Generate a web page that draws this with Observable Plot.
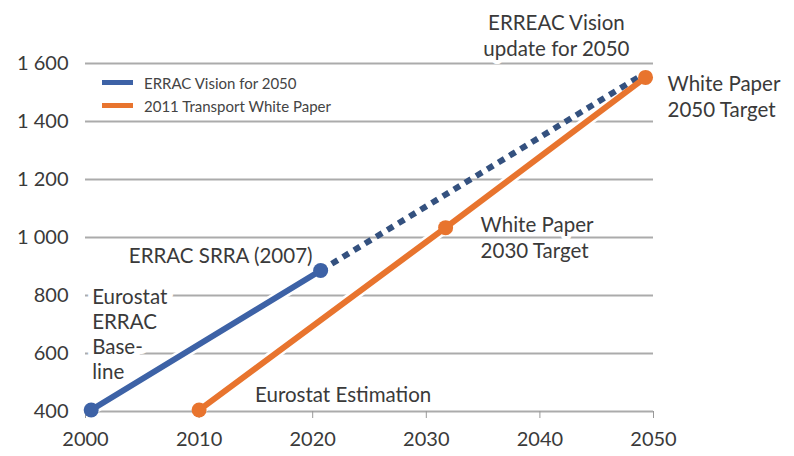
<!DOCTYPE html>
<html>
<head>
<meta charset="utf-8">
<script src="https://cdn.jsdelivr.net/npm/d3@7"></script>
<script src="https://cdn.jsdelivr.net/npm/@observablehq/plot@0.6"></script>
<style>
  html, body { margin: 0; padding: 0; background: #fff; }
  #wrap { position: relative; width: 794px; height: 456px; font-family: Lato, "Open Sans", sans-serif; }
  #legend { position: absolute; left: 102px; top: 71px; font-size: 15px; color: #444; }
  .row { display: flex; align-items: center; height: 23px; }
  .sw { width: 31px; height: 5px; margin-right: 11px; }
</style>
</head>
<body>
<div id="wrap"></div>
<script>
// Series: ERRAC Vision for 2050 (solid historical part, dashed vision part)
const erracYears = [2000.5, 2020.7];
const erracValues = [405, 886];
const erracVisionYears = [2020.7, 2049.2];
const erracVisionValues = [886, 1565];
// Series: 2011 Transport White Paper
const wpYears = [2010, 2031.7, 2049.3];
const wpValues = [405, 1034, 1552];

const seriesNames = ["ERRAC Vision for 2050", "2011 Transport White Paper"];
const seriesColors = ["#3d62a6", "#e8742e"];
const dashColor = "#34517f";

const xTicks = [2000, 2010, 2020, 2030, 2040, 2050];
const yTicks = [400, 600, 800, 1000, 1200, 1400, 1600];

const errac = erracYears.map((x, i) => ({x, y: erracValues[i]}));
const erracVision = erracVisionYears.map((x, i) => ({x, y: erracVisionValues[i]}));
const wp = wpYears.map((x, i) => ({x, y: wpValues[i]}));

// Annotations anchored to data points
const annotations = [
  {p: errac[1], text: "ERRAC SRRA (2007)", dx: -100, dy: -16, anchor: "middle", lh: 1.3, halo: 8},
  {p: errac[0], text: "Eurostat\nERRAC\nBase-\nline", dx: 1, dy: -77, anchor: "start", lh: 1.22, halo: 12},
  {p: wp[0], text: "Eurostat Estimation", dx: 56, dy: -17, anchor: "start", lh: 1.3, halo: 8},
  {p: wp[1], text: "White Paper\n2030 Target", dx: 35, dy: 9, anchor: "start", lh: 1.3, halo: 8},
  {p: wp[2], text: "White Paper\n2050 Target", dx: 22, dy: 18, anchor: "start", lh: 1.3, halo: 8},
  {p: erracVision[1], text: "ERREAC Vision\nupdate for 2050", dx: -88, dy: -39, anchor: "middle", lh: 1.3, halo: 8}
];

const fmt = d => d3.format(",")(d).replace(",", " ");

const chart = Plot.plot({
  width: 794,
  height: 456,
  marginLeft: 85,
  marginRight: 141,
  marginTop: 63,
  marginBottom: 45,
  style: {fontFamily: "Lato, 'Open Sans', sans-serif", fontSize: "20px", color: "#3a3a3a", background: "#fff"},
  x: {domain: [2000, 2050], label: null},
  y: {domain: [400, 1600], label: null},
  marks: [
    Plot.gridY(yTicks, {stroke: "#ababab", strokeWidth: 2, strokeOpacity: 1}),
    Plot.axisY(yTicks, {tickSize: 0, tickPadding: 17, tickFormat: fmt, fontSize: 20, fill: "#3a3a3a", label: null}),
    Plot.axisX(xTicks, {tickSize: 7, tickPadding: 13, tickFormat: d => String(d), fontSize: 20, fill: "#3a3a3a", stroke: "#999", label: null}),
    ...annotations.map(a => Plot.text([a], {
      x: d => d.p.x, y: d => d.p.y, text: "text", dx: a.dx, dy: a.dy,
      textAnchor: a.anchor, lineAnchor: "middle", lineHeight: a.lh,
      fontSize: 20.5, fill: "#3a3a3a", stroke: "white", strokeWidth: a.halo
    })),
    // halos
    Plot.line(errac, {x: "x", y: "y", stroke: "white", strokeWidth: 11}),
    Plot.line(wp, {x: "x", y: "y", stroke: "white", strokeWidth: 11}),
    Plot.line(errac, {x: "x", y: "y", stroke: seriesColors[0], strokeWidth: 6}),
    Plot.line(erracVision, {x: "x", y: "y", stroke: dashColor, strokeWidth: 6, strokeDasharray: "7,6", strokeLinecap: "butt"}),
    Plot.line(wp, {x: "x", y: "y", stroke: seriesColors[1], strokeWidth: 6}),
    Plot.dot(errac, {x: "x", y: "y", r: 7.5, fill: seriesColors[0]}),
    Plot.dot(wp, {x: "x", y: "y", r: 7.5, fill: seriesColors[1]})
  ]
});

const wrap = document.getElementById("wrap");
wrap.appendChild(chart);
const legend = document.createElement("div");
legend.id = "legend";
seriesNames.forEach((n, i) => {
  const row = document.createElement("div");
  row.className = "row";
  const sw = document.createElement("div");
  sw.className = "sw";
  sw.style.background = seriesColors[i];
  const t = document.createElement("span");
  t.textContent = n;
  row.appendChild(sw);
  row.appendChild(t);
  legend.appendChild(row);
});
wrap.appendChild(legend);
</script>
</body>
</html>
